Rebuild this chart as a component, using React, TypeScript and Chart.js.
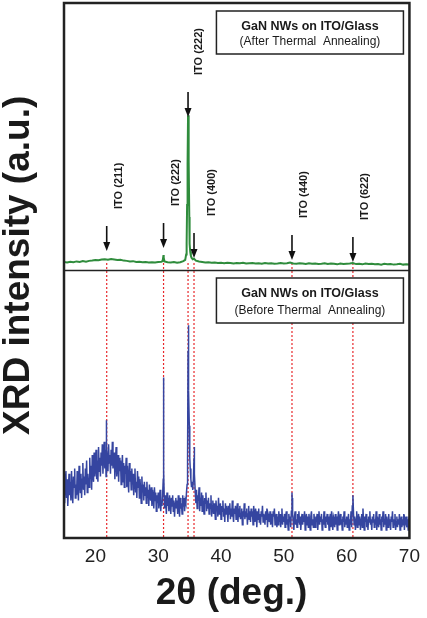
import { useEffect, useRef } from "react";
import { Chart, registerables } from "chart.js";

Chart.register(...registerables);

// ---- axis ----
const xTicks = [20, 30, 40, 50, 60, 70];
const xMin = 15;
const xMax = 70;
const yMin = 0;
const yMax = 200; // bottom panel 0..100, top panel 100..200
const panelSplit = 100;

// ---- "before annealing" (blue, bottom panel): sampled every 0.1 deg from 15.0 (one row per degree) ----
const blueStart = 15.0;
const blueStep = 0.1;
const blueBackground = [
  24, 13, 20, 25, 15, 22, 12, 18, 24, 16,
  21, 14, 25, 17, 13, 23, 19, 26, 15, 20,
  16, 25, 19, 14, 27, 21, 17, 24, 15, 22,
  28, 18, 23, 16, 26, 20, 29, 17, 24, 21,
  19, 30, 22, 27, 18, 31, 24, 21, 32, 23,
  26, 33, 22, 29, 21, 34, 25, 30, 23, 32,
  27, 35, 24, 31, 36, 26, 33, 23, 34, 29,
  25, 35, 28, 31, 24, 33, 27, 36, 26, 30,
  32, 22, 29, 34, 23, 27, 31, 21, 30, 25,
  29, 20, 26, 31, 21, 28, 19, 27, 24, 30,
  19, 27, 22, 17, 28, 21, 25, 18, 26, 20,
  24, 16, 22, 26, 17, 21, 15, 25, 19, 23,
  15, 22, 18, 13, 23, 17, 20, 14, 21, 16,
  19, 13, 21, 15, 18, 12, 20, 16, 14, 19,
  12, 18, 15, 11, 19, 14, 17, 10, 16, 13,
  17, 11, 15, 18, 10, 14, 12, 16, 22, 25,
  11, 16, 13, 9, 17, 12, 15, 10, 16, 13,
  9, 15, 12, 16, 10, 14, 8, 13, 15, 11,
  14, 9, 16, 12, 8, 15, 11, 13, 9, 16,
  12, 15, 10, 14, 13, 17, 20, 30, 79.5, 55,
  36, 26, 22, 19, 21, 18, 22, 30, 24, 17,
  13, 18, 11, 16, 14, 19, 10, 15, 12, 17,
  10, 16, 12, 9, 15, 13, 17, 10, 14, 11,
  15, 9, 13, 11, 16, 8, 12, 14, 9, 13,
  11, 7, 14, 10, 12, 8, 15, 9, 11, 13,
  7, 12, 10, 14, 8, 11, 6, 13, 9, 12,
  10, 6, 12, 9, 13, 7, 11, 8, 14, 9,
  6, 11, 9, 12, 7, 10, 13, 6, 11, 8,
  12, 7, 9, 11, 5, 10, 8, 13, 7, 10,
  8, 11, 5, 9, 12, 7, 10, 6, 11, 8,
  10, 5, 12, 8, 6, 11, 9, 4, 10, 7,
  11, 6, 9, 5, 10, 8, 12, 6, 9, 7,
  5, 10, 7, 11, 4, 9, 8, 6, 10, 5,
  9, 7, 4, 10, 8, 11, 5, 7, 9, 4,
  8, 5, 10, 6, 9, 4, 7, 11, 5, 8,
  6, 9, 4, 8, 10, 5, 7, 3, 9, 6,
  8, 4, 10, 17, 9, 6, 3, 8, 10, 5,
  7, 4, 9, 6, 10, 5, 8, 3, 7, 9,
  5, 8, 6, 10, 3, 7, 9, 5, 8, 4,
  9, 6, 3, 8, 10, 5, 7, 4, 9, 6,
  4, 8, 6, 9, 3, 7, 10, 5, 8, 6,
  9, 3, 7, 5, 10, 6, 4, 8, 6, 9,
  5, 8, 3, 7, 9, 4, 10, 6, 3, 8,
  7, 4, 9, 5, 8, 3, 7, 10, 5, 6,
  9, 5, 7, 3, 8, 6, 10, 4, 7, 5,
  8, 4, 6, 9, 3, 7, 5, 10, 4, 12,
  16, 9, 5, 8, 3, 7, 10, 4, 6, 9,
  5, 8, 3, 7, 9, 4, 11, 6, 3, 8,
  6, 9, 4, 7, 3, 8, 6, 10, 5, 7,
  3, 8, 6, 9, 4, 7, 5, 10, 3, 8,
  6, 4, 9, 5, 7, 3, 8, 6, 10, 4,
  7, 5, 9, 3, 8, 6, 4, 9, 5, 7,
  3, 8, 6, 10, 4, 7, 5, 9, 3, 6,
  8, 4, 7, 5, 9, 3, 6, 8, 4, 7,
  5, 9, 3, 7, 6, 8, 4, 7, 3, 6,
  5,
];
// sharp reflections between the sampled points: [2theta, intensity]
const bluePeaks: [number, number][] = [
  [21.72, 38], [21.75, 44], [21.78, 40],
  [30.82, 40], [30.84, 60], [30.87, 58], [30.89, 35],
  [34.65, 24], [34.75, 70], [34.78, 79.5], [34.85, 70], [34.95, 42], [35.05, 30],
  [35.72, 32], [35.75, 34], [35.78, 30],
  [51.32, 15],
];

// ---- "after annealing" (green, top panel): sampled every 0.5 deg from 15.0 ----
const greenStart = 15.0;
const greenStep = 0.5;
const greenBackground = [
  103.2, 103.0, 103.3, 103.1, 103.4, 103.2, 103.5, 103.3, 103.6, 103.7,
  103.9, 103.8, 104.1, 104.2, 104.0, 104.3, 104.1, 103.9, 104.0, 103.7,
  103.6, 103.4, 103.5, 103.2, 103.3, 103.1, 103.2, 103.0, 103.1, 103.0,
  103.2, 103.3, 103.4, 103.1, 103.0, 103.2, 102.9, 103.1, 103.5, 108.0,
  110.0, 104.2, 103.7, 103.4, 103.2, 103.0, 103.1, 102.9, 103.0, 102.8,
  102.9, 102.7, 102.9, 102.8, 102.6, 102.8, 102.7, 102.9, 102.6, 102.7,
  102.8, 102.6, 102.7, 102.5, 102.8, 102.6, 102.7, 102.5, 102.6, 102.8,
  102.6, 102.7, 103.0, 102.6, 102.5, 102.7, 102.6, 102.4, 102.7, 102.5,
  102.6, 102.4, 102.5, 102.7, 102.4, 102.6, 102.5, 102.3, 102.6, 102.4,
  102.5, 102.6, 102.8, 102.4, 102.5, 102.3, 102.6, 102.4, 102.5, 102.3,
  102.4, 102.2, 102.5, 102.3, 102.4, 102.2, 102.3, 102.5, 102.2, 102.3,
  102.2,
];
const greenPeaks: [number, number][] = [
  [30.7, 103.5], [30.8, 105.0], [30.85, 105.8], [30.9, 104.8],
  [34.3, 104.0], [34.45, 106.0], [34.55, 110.0], [34.6, 124.5], [34.65, 126.0],
  [34.7, 140.0], [34.75, 158.0], [34.8, 150.0], [34.85, 142.0], [34.9, 141.0],
  [34.95, 120.0], [35.1, 107.0], [35.2, 105.5], [35.3, 104.8],
  [35.7, 104.4],
];

// ---- reflection markers ----
const peakPos = [21.8, 30.85, 34.75, 35.7, 51.3, 61.0];
const peakLabels = ["ITO (211)", "ITO (222)", "ITO (222)", "ITO (400)", "ITO (440)", "ITO (622)"];
const arrowTip = [107.3, 108.4, 157.4, 104.7, 103.9, 103.2];
const guideTop = 102.8;

const topBoxLines = ["GaN NWs on ITO/Glass", "(After Thermal  Annealing)"];
const bottomBoxLines = ["GaN NWs on ITO/Glass", "(Before Thermal  Annealing)"];

const FONT = "'Liberation Sans', Arial, Helvetica, sans-serif";

function merge(start: number, step: number, bg: number[], peaks: [number, number][]) {
  const pts = bg.map((y, i) => ({ x: +(start + i * step).toFixed(3), y }));
  peaks.forEach(([x, y]) => pts.push({ x, y }));
  pts.sort((a, b) => a.x - b.x);
  return pts;
}

const labelShift = [12, 12, 11, 18, 12, 12];

const decor = {
  id: "decor",
  beforeDatasetsDraw(chart: any) {
    const { ctx, chartArea, scales } = chart;
    const xs = scales.x;
    const ys = scales.y;
    ctx.save();
    ctx.strokeStyle = "#e8262a";
    ctx.lineWidth = 1.2;
    ctx.setLineDash([2, 2]);
    peakPos.forEach((p) => {
      const px = xs.getPixelForValue(p);
      ctx.beginPath();
      ctx.moveTo(px, ys.getPixelForValue(guideTop));
      ctx.lineTo(px, chartArea.bottom);
      ctx.stroke();
    });
    ctx.restore();
  },
  afterDatasetsDraw(chart: any) {
    const { ctx, chartArea, scales } = chart;
    const xs = scales.x;
    const ys = scales.y;
    ctx.save();
    // arrows + labels
    ctx.fillStyle = "#111";
    ctx.strokeStyle = "#111";
    peakPos.forEach((p, i) => {
      const px = xs.getPixelForValue(p);
      const tip = ys.getPixelForValue(arrowTip[i]);
      const top = tip - 25;
      ctx.lineWidth = 1.6;
      ctx.beginPath();
      ctx.moveTo(px, top);
      ctx.lineTo(px, tip - 7);
      ctx.stroke();
      ctx.beginPath();
      ctx.moveTo(px - 3.5, tip - 9);
      ctx.lineTo(px + 3.5, tip - 9);
      ctx.lineTo(px, tip);
      ctx.closePath();
      ctx.fill();
      ctx.save();
      ctx.translate(px + labelShift[i], top - 17);
      ctx.rotate(-Math.PI / 2);
      ctx.font = `bold 11px ${FONT}`;
      ctx.textAlign = "left";
      ctx.textBaseline = "middle";
      ctx.fillStyle = "#1a1a1a";
      ctx.fillText(peakLabels[i], 0, 0);
      ctx.restore();
    });
    // boxes
    const split = ys.getPixelForValue(panelSplit);
    const drawBox = (lines: string[], top: number, h: number) => {
      const right = chartArea.right - 6;
      const w = 187;
      const left = right - w;
      ctx.lineWidth = 1.5;
      ctx.strokeStyle = "#222";
      ctx.fillStyle = "#fff";
      ctx.fillRect(left, top, w, h);
      ctx.strokeRect(left, top, w, h);
      ctx.fillStyle = "#1a1a1a";
      ctx.textAlign = "center";
      ctx.textBaseline = "middle";
      ctx.font = `bold 12.5px ${FONT}`;
      ctx.fillText(lines[0], left + w / 2, top + h * 0.35);
      ctx.font = `12px ${FONT}`;
      ctx.fillText(lines[1], left + w / 2, top + h * 0.72);
    };
    drawBox(topBoxLines, chartArea.top + 8, 43);
    drawBox(bottomBoxLines, split + 7.5, 45);
    // divider + frame
    ctx.strokeStyle = "#222";
    ctx.lineWidth = 1.5;
    ctx.beginPath();
    ctx.moveTo(chartArea.left, split);
    ctx.lineTo(chartArea.right, split);
    ctx.stroke();
    ctx.lineWidth = 2.5;
    ctx.strokeRect(chartArea.left, chartArea.top, chartArea.right - chartArea.left, chartArea.bottom - chartArea.top);
    ctx.restore();
  },
};

export default function App() {
  const ref = useRef<HTMLCanvasElement>(null);
  useEffect(() => {
    const chart = new Chart(ref.current as HTMLCanvasElement, {
      type: "line",
      data: {
        datasets: [
          {
            data: merge(greenStart, greenStep, greenBackground, greenPeaks),
            borderColor: "#2f8c3c",
            borderWidth: 2,
            pointRadius: 0,
            tension: 0,
          },
          {
            data: merge(blueStart, blueStep, blueBackground, bluePeaks),
            borderColor: "#3545a0",
            borderWidth: 1.5,
            pointRadius: 0,
            tension: 0,
          },
        ],
      },
      options: {
        animation: false,
        responsive: true,
        maintainAspectRatio: false,
        layout: { padding: { top: 3, right: 15, left: 0, bottom: 0 } },
        plugins: { legend: { display: false }, tooltip: { enabled: false } },
        scales: {
          x: {
            type: "linear",
            min: xMin,
            max: xMax,
            afterBuildTicks: (s: any) => {
              s.ticks = xTicks.map((v) => ({ value: v }));
            },
            afterFit: (s: any) => {
              s.height = 80;
            },
            ticks: {
              font: { family: FONT, size: 19 },
              color: "#222",
              padding: 7,
              maxRotation: 0,
              autoSkip: false,
            },
            grid: { display: false, drawTicks: false },
            border: { display: false },
            title: {
              display: true,
              text: "2θ (deg.) ",
              color: "#1a1a1a",
              font: { family: FONT, size: 37, weight: "bold", lineHeight: 1 },
              padding: { top: 0, bottom: 6 },
            },
          },
          y: {
            min: yMin,
            max: yMax,
            afterFit: (s: any) => {
              s.width = 64;
            },
            ticks: { display: false },
            grid: { display: false, drawTicks: false },
            border: { display: false },
            title: {
              display: true,
              text: " XRD intensity (a.u.)",
              color: "#1a1a1a",
              font: { family: FONT, size: 37, weight: "bold", lineHeight: 1 },
              padding: { top: 0, bottom: 0 },
            },
          },
        },
      },
      plugins: [decor],
    } as any);
    return () => chart.destroy();
  }, []);
  return (
    <div style={{ position: "fixed", left: 0, top: 0, width: 427, height: 618, background: "#fff" }}>
      <canvas ref={ref} />
    </div>
  );
}
